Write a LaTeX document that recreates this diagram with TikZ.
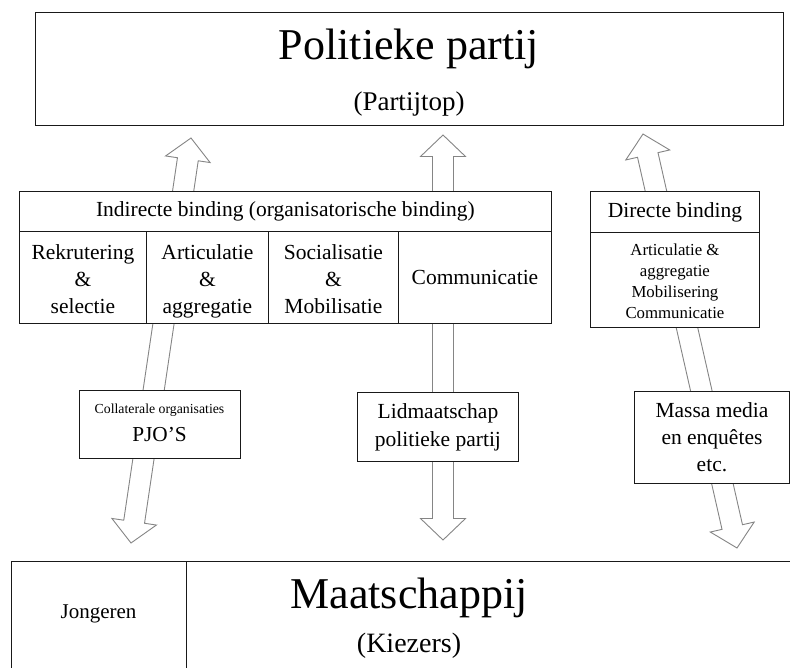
\documentclass[tikz,border=0pt]{standalone}
\usepackage{fontspec}
\setmainfont{Liberation Serif}
\usetikzlibrary{calc}
\newcommand\fsz[2]{\fontsize{#1}{#2}\selectfont}
\newcommand\dblarw[2]{%
  \coordinate (#1h) at ($(#1)!21.5pt!(#2)$);
  \coordinate (#2h) at ($(#2)!21.5pt!(#1)$);
  \draw[arrowline] (#1)
    -- ($(#1h)!22.5pt!90:(#2)$) -- ($(#1h)!10.5pt!90:(#2)$)
    -- ($(#2h)!10.5pt!-90:(#1)$) -- ($(#2h)!22.5pt!-90:(#1)$)
    -- (#2)
    -- ($(#2h)!22.5pt!90:(#1)$) -- ($(#2h)!10.5pt!90:(#1)$)
    -- ($(#1h)!10.5pt!-90:(#2)$) -- ($(#1h)!22.5pt!-90:(#2)$)
    -- cycle;}
\tikzset{
  boxn/.style={draw=black!90, line width=0.9pt, fill=white, inner sep=0pt, anchor=north west},
  midtxt/.style={font=\fsz{21.5}{27}, align=center},
  lbl/.style={inner sep=0pt, anchor=base},
  arrowline/.style={draw=black!48, line width=0.9pt, fill=white, line join=miter}
}
\begin{document}
\begin{tikzpicture}[x=1pt,y=-1pt]
\useasboundingbox (0,0) rectangle (790,668);
\clip (0,0) rectangle (790,668);
% arrow end points
\coordinate (la) at (191,138);
\coordinate (lb) at (131,543);
\coordinate (ma) at (443,135);
\coordinate (mb) at (443,540);
\coordinate (ra) at (643,134);
\coordinate (rb) at (737,548);
\dblarw{la}{lb}
\dblarw{ma}{mb}
\dblarw{ra}{rb}
% top box
\node[boxn, minimum width=748pt, minimum height=113pt] (top) at (35,12) {};
\node[lbl, font=\fsz{44}{50}] (toptitle) at (409,60) {Politieke partij};
\node[lbl, font=\fsz{27}{30}] (topsub) at (409,111) {(Partijtop)};
% indirect binding table
\node[boxn, midtxt, minimum width=532pt, minimum height=40pt] (ind) at (19,191) {Indirecte binding (organisatorische binding)};
\node[boxn, midtxt, minimum width=127pt, minimum height=92pt] (c1) at (19,231) {\strut Rekrutering\\\&\\\smash{selectie}};
\node[boxn, midtxt, minimum width=122pt, minimum height=92pt] (c2) at (146,231) {\strut Articulatie\\\&\\\smash{aggregatie}};
\node[boxn, midtxt, minimum width=130pt, minimum height=92pt] (c3) at (268,231) {\strut Socialisatie\\\&\\\smash{Mobilisatie}};
\node[boxn, midtxt, minimum width=153pt, minimum height=92pt] (c4) at (398,231) {Communicatie};
% direct binding
\node[boxn, midtxt, minimum width=169pt, minimum height=41pt] (dir) at (590,191) {Directe binding};
\node[boxn, font=\fsz{16.8}{21}, align=center, minimum width=169pt, minimum height=95pt] (dirb) at (590,232) {\strut Articulatie \&\\aggregatie\\Mobilisering\\\smash{Communicatie}};
% middle boxes
\node[boxn, minimum width=161pt, minimum height=68pt] (coll) at (79,390) {};
\node[lbl, font=\fsz{13.8}{16}] (colltxt) at (159.5,413) {Collaterale organisaties};
\node[lbl, font=\fsz{21.3}{24}] (pjo) at (159.5,441) {PJO’S};
\node[boxn, midtxt, font=\fsz{21.5}{28}, minimum width=161pt, minimum height=69pt] (lid) at (357,392) {Lidmaatschap\\politieke partij};
\node[boxn, midtxt, minimum width=155pt, minimum height=92pt] (massa) at (634,391) {Massa media\\en enquêtes\\etc.};
% bottom box
\node[boxn, minimum width=800pt, minimum height=150pt] (bot) at (11,561) {};
\node[boxn, minimum width=175pt, minimum height=150pt] (jcell) at (11,561) {};
\node[lbl, font=\fsz{21}{24}] (jong) at (98.5,618) {Jongeren};
\node[lbl, font=\fsz{44}{50}] (maat) at (409,608) {Maatschappij};
\node[lbl, font=\fsz{28}{30}] (kiez) at (409,652) {(Kiezers)};
\end{tikzpicture}
\end{document}
